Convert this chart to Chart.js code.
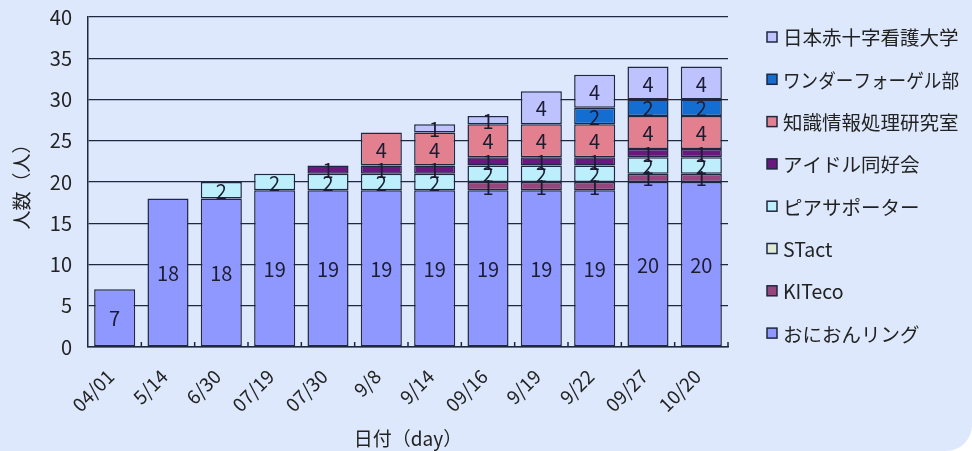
<!DOCTYPE html>
<html>
<head>
<meta charset="utf-8">
<script src="https://cdn.jsdelivr.net/npm/chart.js@4"></script>
<style>
  html, body { margin: 0; padding: 0; background: #ffffff; }
  #wrap {
    width: 972px; height: 451px;
    background: #dde8fc;
    border-bottom-right-radius: 26px;
    overflow: hidden;
  }
</style>
</head>
<body>
<div id="wrap"><canvas id="chart" width="972" height="451"></canvas></div>
<script>
const days = ["04/01", "5/14", "6/30", "07/19", "07/30", "9/8", "9/14", "09/16", "9/19", "9/22", "09/27", "10/20"];

const onionRing   = [7, 18, 18, 19, 19, 19, 19, 19, 19, 19, 20, 20];
const kiteco      = [0, 0, 0, 0, 0, 0, 0, 1, 1, 1, 1, 1];
const stact       = [0, 0, 0, 0, 0, 0, 0, 0, 0, 0, 0, 0];
const peerSupport = [0, 0, 2, 2, 2, 2, 2, 2, 2, 2, 2, 2];
const idolClub    = [0, 0, 0, 0, 1, 1, 1, 1, 1, 1, 1, 1];
const knowledgeLab = [0, 0, 0, 0, 0, 4, 4, 4, 4, 4, 4, 4];
const wandervogel = [0, 0, 0, 0, 0, 0, 0, 0, 0, 2, 2, 2];
const redCross    = [0, 0, 0, 0, 0, 0, 1, 1, 4, 4, 4, 4];

const yTicks = [0, 5, 10, 15, 20, 25, 30, 35, 40];

const FONT = '"Noto Sans CJK JP", "Noto Sans", sans-serif';
const INK = "#1e2840";

function series(label, values, color) {
  return {
    label: label,
    data: values.map(v => v === 0 ? null : v),
    backgroundColor: color,
    borderColor: INK,
    borderWidth: 1.5,
    borderSkipped: false,
    barPercentage: 0.77,
    categoryPercentage: 1.0
  };
}

// numbers in the middle of each segment
const segmentLabels = {
  id: "segmentLabels",
  afterDatasetsDraw(chart) {
    const ctx = chart.ctx;
    ctx.save();
    ctx.font = "20px " + FONT;
    ctx.fillStyle = "#1c1c30";
    ctx.textAlign = "center";
    ctx.textBaseline = "middle";
    chart.data.datasets.forEach((ds, i) => {
      const meta = chart.getDatasetMeta(i);
      meta.data.forEach((bar, j) => {
        const v = ds.data[j];
        if (!v) return;
        ctx.fillText(String(v), bar.x, (bar.y + bar.base) / 2 + 1);
      });
    });
    ctx.restore();
  }
};

// small inward ticks on the category axis + right-side legend
const extras = {
  id: "extras",
  afterDraw(chart) {
    const ctx = chart.ctx;
    const x = chart.scales.x;
    const area = chart.chartArea;
    ctx.save();
    ctx.strokeStyle = INK;
    ctx.lineWidth = 1.5;
    for (let i = 0; i < days.length; i++) {
      const b = i < days.length - 1
        ? (x.getPixelForValue(i) + x.getPixelForValue(i + 1)) / 2
        : area.right;
      ctx.beginPath();
      ctx.moveTo(b, area.bottom);
      ctx.lineTo(b, area.bottom - 5);
      ctx.stroke();
    }

    const items = chart.data.datasets.slice().reverse();
    const top = 37, step = 42.3;
    ctx.font = "19.5px " + FONT;
    ctx.textAlign = "left";
    ctx.textBaseline = "middle";
    items.forEach((ds, k) => {
      const cy = top + k * step;
      ctx.fillStyle = ds.backgroundColor;
      ctx.fillRect(767, cy - 5, 10, 10);
      ctx.strokeStyle = INK;
      ctx.lineWidth = 1.5;
      ctx.strokeRect(767, cy - 5, 10, 10);
      ctx.fillStyle = "#222";
      ctx.fillText(ds.label, 783, cy + 1, 176);
    });
    ctx.restore();
  }
};

new Chart(document.getElementById("chart").getContext("2d"), {
  type: "bar",
  data: {
    labels: days,
    datasets: [
      series("おにおんリング", onionRing, "#8f98ff"),
      series("KITeco", kiteco, "#96467d"),
      series("STact", stact, "#e0ebd5"),
      series("ピアサポーター", peerSupport, "#bdeefc"),
      series("アイドル同好会", idolClub, "#69197d"),
      series("知識情報処理研究室", knowledgeLab, "#e28090"),
      series("ワンダーフォーゲル部", wandervogel, "#146ed2"),
      series("日本赤十字看護大学", redCross, "#bec3ff")
    ]
  },
  options: {
    responsive: false,
    animation: false,
    layout: { padding: { left: 0, top: 17, right: 244, bottom: 0 } },
    plugins: {
      legend: { display: false },
      tooltip: { enabled: false }
    },
    scales: {
      x: {
        stacked: true,
        afterFit(scale) { scale.height = 104; },
        grid: { display: false },
        border: { display: true, color: INK, width: 1.5 },
        ticks: {
          color: "#222",
          font: { family: FONT, size: 19 },
          minRotation: 45,
          maxRotation: 45,
          padding: 10,
          labelOffset: -4
        },
        title: {
          display: true,
          text: "日付（day）",
          color: "#222",
          font: { family: FONT, size: 19 },
          padding: { top: 0, bottom: 1 }
        }
      },
      y: {
        stacked: true,
        min: 0,
        max: 40,
        afterFit(scale) { scale.width = 88; scale.paddingTop = 0; scale.paddingBottom = 0; },
        afterBuildTicks(scale) { scale.ticks = yTicks.map(v => ({ value: v })); },
        grid: { color: INK, lineWidth: 1.3, drawTicks: false },
        border: { display: true, color: INK, width: 1.5 },
        ticks: {
          color: "#222",
          font: { family: FONT, size: 20 },
          padding: 16
        },
        title: {
          display: true,
          text: "人数（人）",
          color: "#222",
          font: { family: FONT, size: 19 },
          padding: { top: 10, bottom: 0 }
        }
      }
    }
  },
  plugins: [segmentLabels, extras]
});
</script>
</body>
</html>
